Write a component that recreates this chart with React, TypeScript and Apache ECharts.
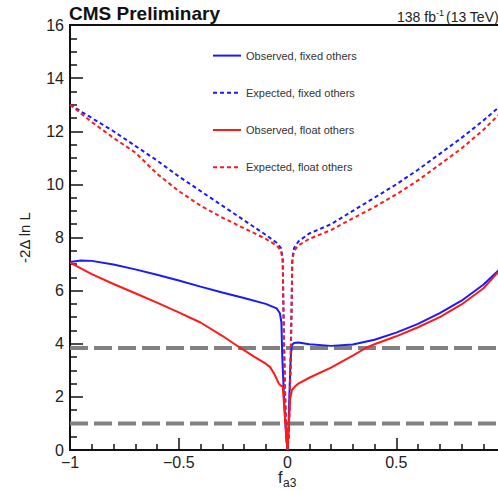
import React, { useEffect, useRef } from "react";
import * as echarts from "echarts";

const xTicks = [-1, -0.5, 0, 0.5, 1];
const yTicks = [0, 2, 4, 6, 8, 10, 12, 14, 16];

const observedFixed: number[][] = [
  [-1, 7.08], [-0.95, 7.13], [-0.9, 7.12], [-0.8, 6.98], [-0.7, 6.8], [-0.6, 6.6],
  [-0.5, 6.38], [-0.4, 6.15], [-0.3, 5.93], [-0.2, 5.72], [-0.1, 5.5], [-0.05, 5.33],
  [-0.035, 5.15], [-0.028, 4.8], [-0.024, 3.5], [-0.015, 1.8], [-0.006, 0.5], [0, 0],
  [0.005, 0.9], [0.01, 2.4], [0.015, 3.5], [0.02, 3.95], [0.03, 4.03], [0.05, 4.05],
  [0.1, 3.98], [0.2, 3.92], [0.3, 3.97], [0.4, 4.15], [0.5, 4.42], [0.6, 4.75],
  [0.7, 5.15], [0.8, 5.62], [0.9, 6.22], [0.96, 6.68], [1, 7.05],
];

const expectedFixed: number[][] = [
  [-1, 13.0], [-0.9, 12.5], [-0.8, 12.0], [-0.7, 11.45], [-0.6, 10.9], [-0.5, 10.3],
  [-0.4, 9.75], [-0.3, 9.2], [-0.2, 8.65], [-0.1, 8.1], [-0.05, 7.8], [-0.03, 7.6],
  [-0.022, 7.2], [-0.019, 5.5], [-0.015, 3.6], [-0.01, 1.8], [-0.005, 0.5], [0, 0],
  [0.005, 0.5], [0.01, 1.8], [0.015, 3.6], [0.019, 5.5], [0.022, 7.2], [0.03, 7.6],
  [0.05, 7.85], [0.1, 8.15], [0.2, 8.5], [0.3, 9.0], [0.4, 9.5], [0.5, 10.0],
  [0.6, 10.55], [0.7, 11.15], [0.8, 11.75], [0.9, 12.4], [1, 13.1],
];

const observedFloat: number[][] = [
  [-1, 7.05], [-0.9, 6.62], [-0.8, 6.25], [-0.7, 5.9], [-0.6, 5.55], [-0.5, 5.18],
  [-0.4, 4.8], [-0.3, 4.3], [-0.22, 3.86], [-0.15, 3.5], [-0.1, 3.25], [-0.08, 3.12],
  [-0.06, 2.85], [-0.04, 2.5], [-0.03, 2.42], [-0.022, 2.4], [-0.015, 1.6], [-0.008, 0.8],
  [0, 0], [0.006, 0.9], [0.012, 1.9], [0.02, 2.25], [0.032, 2.37], [0.05, 2.5],
  [0.1, 2.72], [0.2, 3.1], [0.3, 3.55], [0.36, 3.84], [0.4, 3.98], [0.5, 4.28],
  [0.6, 4.62], [0.7, 5.0], [0.8, 5.48], [0.9, 6.08], [0.96, 6.62], [1, 7.0],
];

const expectedFloat: number[][] = [
  [-1, 13.0], [-0.9, 12.35], [-0.8, 11.75], [-0.7, 11.2], [-0.6, 10.4], [-0.5, 9.75],
  [-0.4, 9.2], [-0.3, 8.75], [-0.2, 8.35], [-0.1, 7.95], [-0.05, 7.7], [-0.03, 7.5],
  [-0.022, 7.1], [-0.019, 5.4], [-0.015, 3.6], [-0.01, 1.8], [-0.005, 0.5], [0, 0],
  [0.005, 0.5], [0.01, 1.8], [0.015, 3.6], [0.019, 5.4], [0.022, 7.1], [0.03, 7.5],
  [0.05, 7.7], [0.1, 7.95], [0.2, 8.28], [0.3, 8.72], [0.4, 9.15], [0.5, 9.62],
  [0.6, 10.15], [0.7, 10.75], [0.8, 11.35], [0.9, 12.05], [1, 12.85],
];

const thresholds = [1, 3.84];

const seriesNames = [
  "Observed, fixed others",
  "Expected, fixed others",
  "Observed, float others",
  "Expected, float others",
];

const FONT = "'Liberation Sans', Arial, Helvetica, sans-serif";

export default function App() {
  const ref = useRef<HTMLDivElement>(null);
  useEffect(() => {
    if (!ref.current) return;
    const chart = echarts.init(ref.current, null, { renderer: "svg" });
    const fmt = (v: number) => String(v).replace("-", "\u2212");
    const curve = (name: string, data: number[][], color: string, dashed: boolean) => ({
      name,
      type: "line",
      data,
      symbol: "none",
      smooth: false,
      z: 3,
      lineStyle: { color, width: 2, type: dashed ? [4, 3] : "solid" },
      itemStyle: { color },
    });
    const thresholdSeries = thresholds.map((t, i) => ({
      name: "thr" + i,
      type: "line",
      data: [[-1, t], [1, t]],
      symbol: "none",
      z: 2,
      silent: true,
      lineStyle: { color: "#808080", width: 4, type: [18, 6] },
    }));
    chart.setOption({
      animation: false,
      backgroundColor: "#fff",
      textStyle: { fontFamily: FONT },
      grid: {
        left: 70,
        right: -7,
        top: 25,
        bottom: 41,
        containLabel: false,
        outerBoundsMode: "none",
        show: true,
        borderColor: "#111",
        borderWidth: 2,
        backgroundColor: "transparent",
      },
      legend: {
        data: seriesNames,
        orient: "vertical",
        left: 207,
        top: 45,
        itemWidth: 28,
        itemHeight: 14,
        itemGap: 26,
        itemStyle: { opacity: 0, borderWidth: 0 },
        textStyle: { fontSize: 11, color: "#333", fontFamily: FONT },
      },
      xAxis: {
        type: "value",
        min: xTicks[0],
        max: xTicks[xTicks.length - 1],
        interval: 0.5,
        axisLine: { show: true, onZero: false, lineStyle: { color: "#111", width: 2 } },
        axisTick: { show: true, inside: true, length: 12, lineStyle: { color: "#111", width: 1.5 } },
        minorTick: { show: true, splitNumber: 5, length: 6, lineStyle: { color: "#111", width: 1.5 } },
        splitLine: { show: false },
        axisLabel: {
          formatter: fmt,
          fontSize: 16,
          lineHeight: 12,
          color: "#222",
          margin: 6,
          showMaxLabel: false,
          fontFamily: FONT,
        },
      },
      yAxis: {
        type: "value",
        min: yTicks[0],
        max: yTicks[yTicks.length - 1],
        interval: 2,
        name: "-2\u0394 ln L",
        nameLocation: "middle",
        nameGap: 38,
        nameTextStyle: { fontSize: 15, color: "#222", fontFamily: FONT },
        axisLine: { show: true, onZero: false, lineStyle: { color: "#111", width: 2 } },
        axisTick: { show: true, inside: true, length: 13, lineStyle: { color: "#111", width: 1.5 } },
        minorTick: { show: true, splitNumber: 4, length: 7, lineStyle: { color: "#111", width: 1.5 } },
        splitLine: { show: false },
        axisLabel: { fontSize: 16, lineHeight: 12, color: "#222", margin: 6, fontFamily: FONT },
      },
      graphic: [
        {
          type: "text",
          x: 69,
          y: 13,
          style: {
            text: "CMS Preliminary",
            font: `bold 19px ${FONT}`,
            fill: "#111",
            textVerticalAlign: "middle",
          },
        },
        {
          type: "text",
          x: 397,
          y: 17,
          style: { text: "138 fb", font: `14px ${FONT}`, fill: "#222", textVerticalAlign: "middle" },
        },
        {
          type: "text",
          x: 436,
          y: 13,
          style: { text: "-1", font: `9px ${FONT}`, fill: "#222", textVerticalAlign: "middle" },
        },
        {
          type: "text",
          x: 446,
          y: 17,
          style: { text: "(13 TeV)", font: `14px ${FONT}`, fill: "#222", textVerticalAlign: "middle" },
        },
        {
          type: "text",
          x: 278,
          y: 470,
          style: { text: "f", font: `16px ${FONT}`, lineHeight: 14, fill: "#222", textVerticalAlign: "top" },
        },
        {
          type: "text",
          x: 283,
          y: 477,
          style: { text: "a3", font: `12px ${FONT}`, lineHeight: 11, fill: "#222", textVerticalAlign: "top" },
        },
      ],
      series: [
        ...thresholdSeries,
        curve(seriesNames[0], observedFixed, "#1a1aff", false),
        curve(seriesNames[1], expectedFixed, "#1a1aff", true),
        curve(seriesNames[2], observedFloat, "#ff1a1a", false),
        curve(seriesNames[3], expectedFloat, "#ff1a1a", true),
      ],
    });
    return () => chart.dispose();
  }, []);
  return <div ref={ref} style={{ width: 498, height: 491, position: "absolute", left: 0, top: 0 }} />;
}
